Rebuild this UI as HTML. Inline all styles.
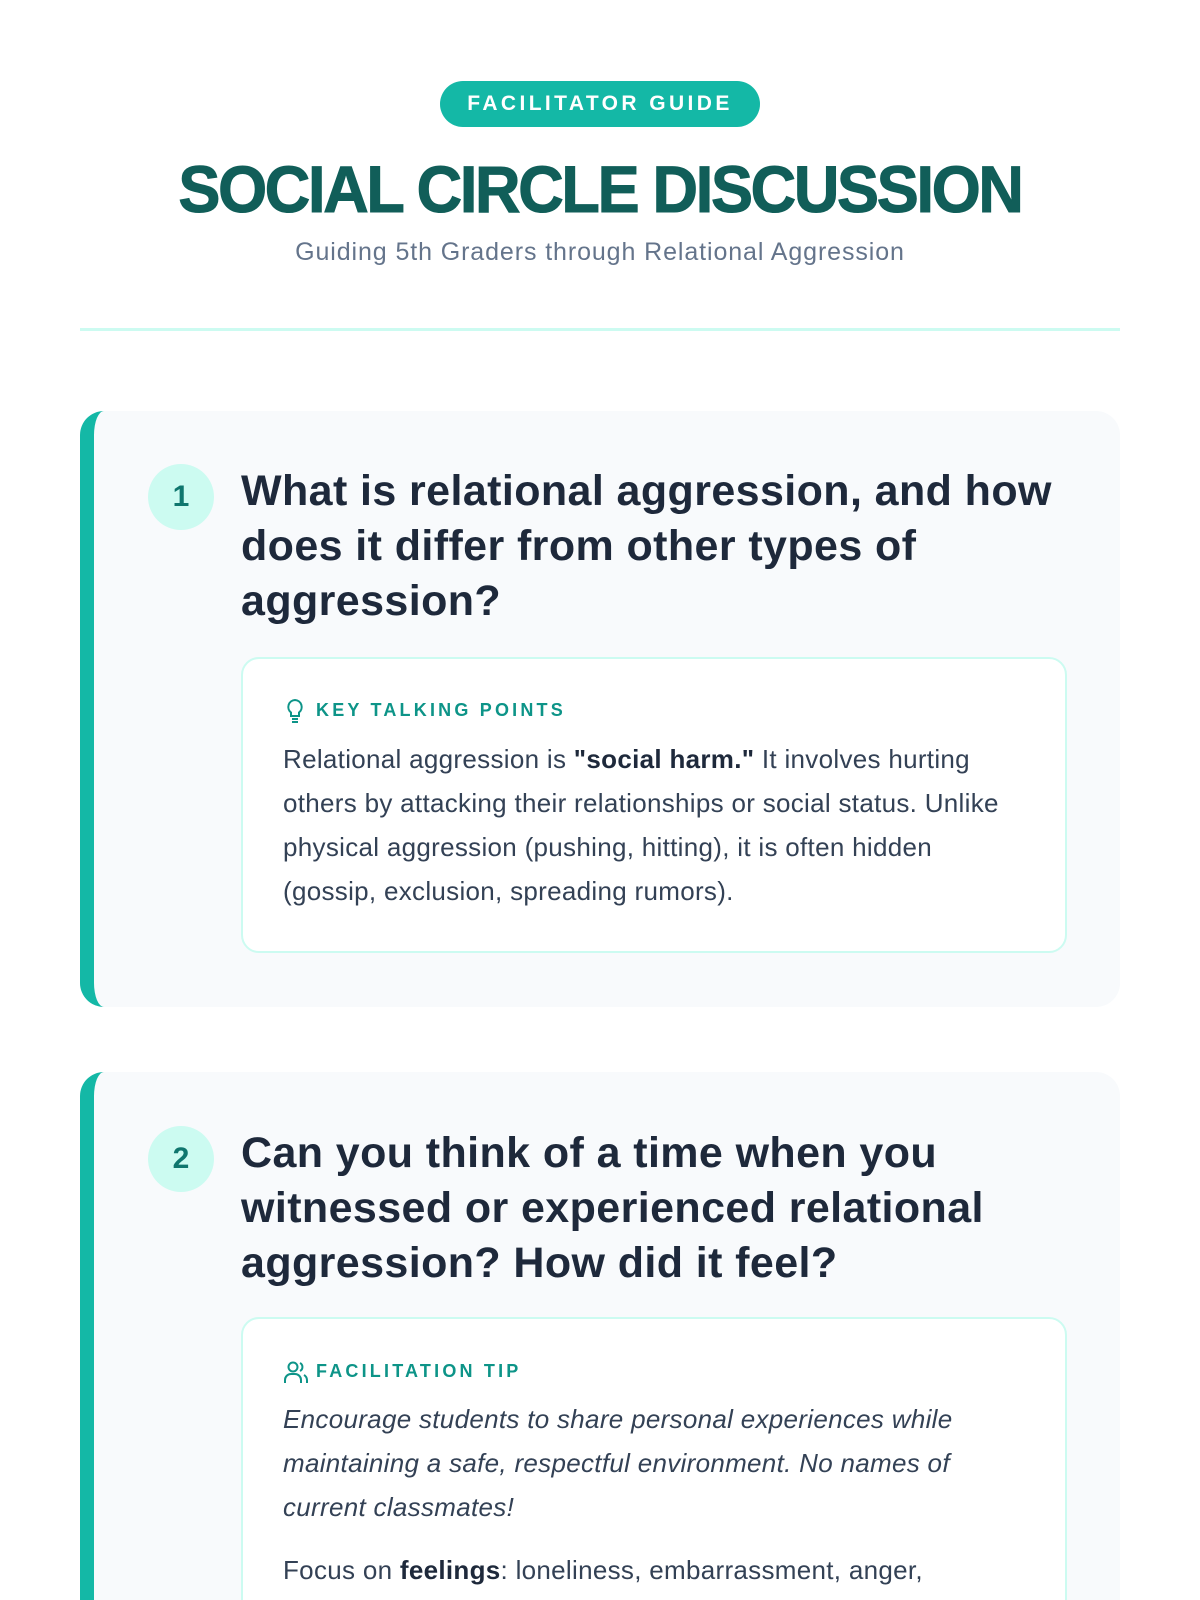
<!DOCTYPE html>
<html style="width:1200px;height:1600px;overflow:hidden"><head><meta charset="utf-8"><style>
*{margin:0;padding:0;box-sizing:border-box}
body{width:1200px;height:1600px;overflow:hidden;background:#fff;font-family:"Liberation Sans",sans-serif;position:relative}
.a{position:absolute;white-space:nowrap}
.pill{left:440px;top:81px;width:320px;height:46px;border-radius:23px;background:#14b8a6;color:#fff;font-size:21px;letter-spacing:3.4px;text-align:center;line-height:46px;font-weight:bold}
.title{left:0;width:1200px;top:152px;text-align:center;font-size:63px;font-weight:900;color:#115e59;letter-spacing:-2.3px;line-height:76px;transform:scaleY(1.05);-webkit-text-stroke:1px #115e59}
.sub{left:0;width:1200px;top:238px;text-align:center;font-size:25px;letter-spacing:0.9px;color:#64748b}
.div{left:80px;top:328px;width:1040px;height:3px;background:#ccfbf1}
.card{position:absolute;left:80px;width:1040px;background:#f8fafc;border-radius:24px;border-left:14px solid #14b8a6;overflow:hidden}
.num{position:absolute;width:66px;height:66px;border-radius:50%;background:#ccfbf1;color:#0f766e;font-size:30px;font-weight:bold;text-align:center;line-height:66px}
.q{position:absolute;font-size:43px;letter-spacing:0.4px;font-weight:bold;color:#1e293b;line-height:55px;white-space:nowrap}
.box{position:absolute;left:241px;width:826px;background:#fff;border:2px solid #ccfbf1;border-radius:18px}
.lab{position:absolute;font-size:18px;font-weight:bold;letter-spacing:3.2px;color:#0d9488;white-space:nowrap}
.txt{position:absolute;font-size:26px;letter-spacing:0.3px;color:#334155;line-height:44px;white-space:nowrap}
</style></head><body>
<div class="a pill">FACILITATOR GUIDE</div>
<div class="a title">SOCIAL CIRCLE DISCUSSION</div>
<div class="a sub">Guiding 5th Graders through Relational Aggression</div>
<div class="a div"></div>

<div class="card" style="top:411px;height:596px"></div>
<div class="num" style="left:148px;top:464px">1</div>
<div class="q" style="left:241px;top:464px">What is relational aggression, and how<br>does it differ from other types of<br>aggression?</div>
<div class="box" style="top:657px;height:296px"></div>
<svg class="a" style="left:284px;top:698px" width="22" height="26" viewBox="0 0 22 26" fill="none" stroke="#0d9488" stroke-width="2"><path d="M11 2a7 7 0 0 0-4 12.5V18h8v-3.5A7 7 0 0 0 11 2z"/><path d="M8 21h6M8 24h6"/></svg>
<div class="lab" style="left:316px;top:700px">KEY TALKING POINTS</div>
<div class="txt" style="left:283px;top:737px">Relational aggression is <b style="color:#1e293b">"social harm."</b> It involves hurting<br>others by attacking their relationships or social status. Unlike<br>physical aggression (pushing, hitting), it is often hidden<br>(gossip, exclusion, spreading rumors).</div>

<div class="card" style="top:1072px;height:560px"></div>
<div class="num" style="left:148px;top:1126px">2</div>
<div class="q" style="left:241px;top:1126px">Can you think of a time when you<br>witnessed or experienced relational<br>aggression? How did it feel?</div>
<div class="box" style="top:1317px;height:320px"></div>
<svg class="a" style="left:283px;top:1360px" width="26" height="24" viewBox="0 0 26 24" fill="none" stroke="#0d9488" stroke-width="2"><circle cx="10" cy="7" r="4.5"/><path d="M2 23v-3a6 6 0 0 1 6-6h4a6 6 0 0 1 6 6v3"/><path d="M17 3a4.5 4.5 0 0 1 0 8M21 15a6 6 0 0 1 3 5v3"/></svg>
<div class="lab" style="left:316px;top:1361px">FACILITATION TIP</div>
<div class="txt" style="left:283px;top:1397px;font-style:italic">Encourage students to share personal experiences while<br>maintaining a safe, respectful environment. No names of<br>current classmates!</div>
<div class="txt" style="left:283px;top:1548px">Focus on <b style="color:#1e293b">feelings</b>: loneliness, embarrassment, anger,</div>
</body></html>
